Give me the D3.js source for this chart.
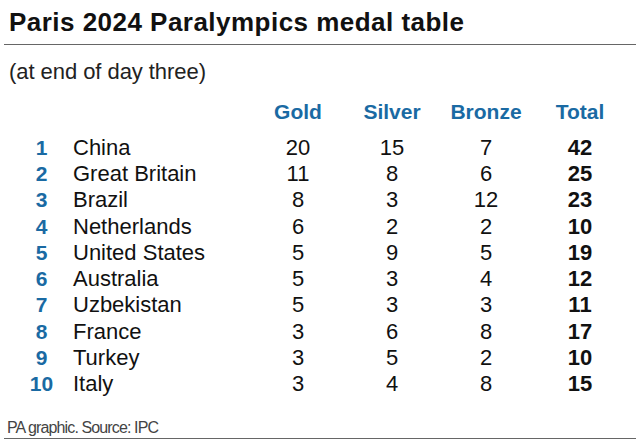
<!DOCTYPE html>
<html>
<head>
<meta charset="utf-8">
<script src="https://cdn.jsdelivr.net/npm/d3@7"></script>
<style>
  html, body { margin: 0; padding: 0; background: #fff; }
  svg { display: block; }
  text { font-family: "Liberation Sans", Arial, sans-serif; }
</style>
</head>
<body>
<svg id="chart" width="640" height="444"></svg>
<script>
const title = "Paris 2024 Paralympics medal table";
const subtitle = "(at end of day three)";
const source = "PA graphic. Source: IPC";
const columns = ["Gold", "Silver", "Bronze", "Total"];
const ranks = [1, 2, 3, 4, 5, 6, 7, 8, 9, 10];
const countries = ["China", "Great Britain", "Brazil", "Netherlands", "United States",
  "Australia", "Uzbekistan", "France", "Turkey", "Italy"];
const gold   = [20, 11, 8, 6, 5, 5, 5, 3, 3, 3];
const silver = [15, 8, 3, 2, 9, 3, 3, 6, 5, 4];
const bronze = [7, 6, 12, 2, 5, 4, 3, 8, 2, 8];
const total  = [42, 25, 23, 10, 19, 12, 11, 17, 10, 15];

const blue = "#1a6aa3";
const svg = d3.select("#chart");

// rows
const y = d3.scalePoint().domain(countries).range([155, 391]);
// columns
const x = d3.scalePoint().domain(columns).range([298, 580]);

svg.append("text").attr("x", 9).attr("y", 31)
  .attr("font-size", 26).attr("font-weight", 700)
  .attr("textLength", 455).attr("lengthAdjust", "spacing")
  .attr("fill", "#111").text(title);

svg.append("line").attr("x1", 4).attr("x2", 636).attr("y1", 44.5).attr("y2", 44.5)
  .attr("stroke", "#666").attr("stroke-width", 1);

svg.append("text").attr("x", 9).attr("y", 79)
  .attr("font-family", "Roboto, sans-serif")
  .attr("font-size", 22).attr("font-weight", 300)
  .attr("textLength", 197).attr("lengthAdjust", "spacing")
  .attr("fill", "#222").text(subtitle);

svg.selectAll("text.head").data(columns).join("text").attr("class", "head")
  .attr("x", d => x(d)).attr("y", 119).attr("text-anchor", "middle")
  .attr("font-size", 21).attr("font-weight", 700)
  .attr("fill", blue).text(d => d);

const rows = countries.map((c, i) => ({
  country: c, rank: ranks[i],
  vals: [gold[i], silver[i], bronze[i], total[i]]
}));

const g = svg.selectAll("g.row").data(rows).join("g").attr("class", "row")
  .attr("transform", d => `translate(0,${y(d.country)})`);

g.append("text").attr("x", 41.5).attr("text-anchor", "middle")
  .attr("font-size", 21).attr("font-weight", 700).attr("fill", blue)
  .text(d => d.rank);

g.append("text").attr("x", 73)
  .attr("font-size", 22).attr("font-weight", 400).attr("fill", "#111")
  .text(d => d.country);

g.selectAll("text.val").data(d => d.vals.map((v, j) => ({ v, col: columns[j] })))
  .join("text").attr("class", "val")
  .attr("x", d => x(d.col)).attr("text-anchor", "middle")
  .attr("font-size", 22)
  .attr("font-weight", d => d.col === "Total" ? 700 : 400)
  .attr("fill", "#111").text(d => d.v);

svg.append("text").attr("x", 7).attr("y", 433)
  .attr("font-family", "Roboto, sans-serif")
  .attr("font-size", 16).attr("font-weight", 300)
  .attr("textLength", 152).attr("lengthAdjust", "spacing")
  .attr("fill", "#444").text(source);

svg.append("line").attr("x1", 4).attr("x2", 636).attr("y1", 438.5).attr("y2", 438.5)
  .attr("stroke", "#666").attr("stroke-width", 1);
</script>
</body>
</html>
